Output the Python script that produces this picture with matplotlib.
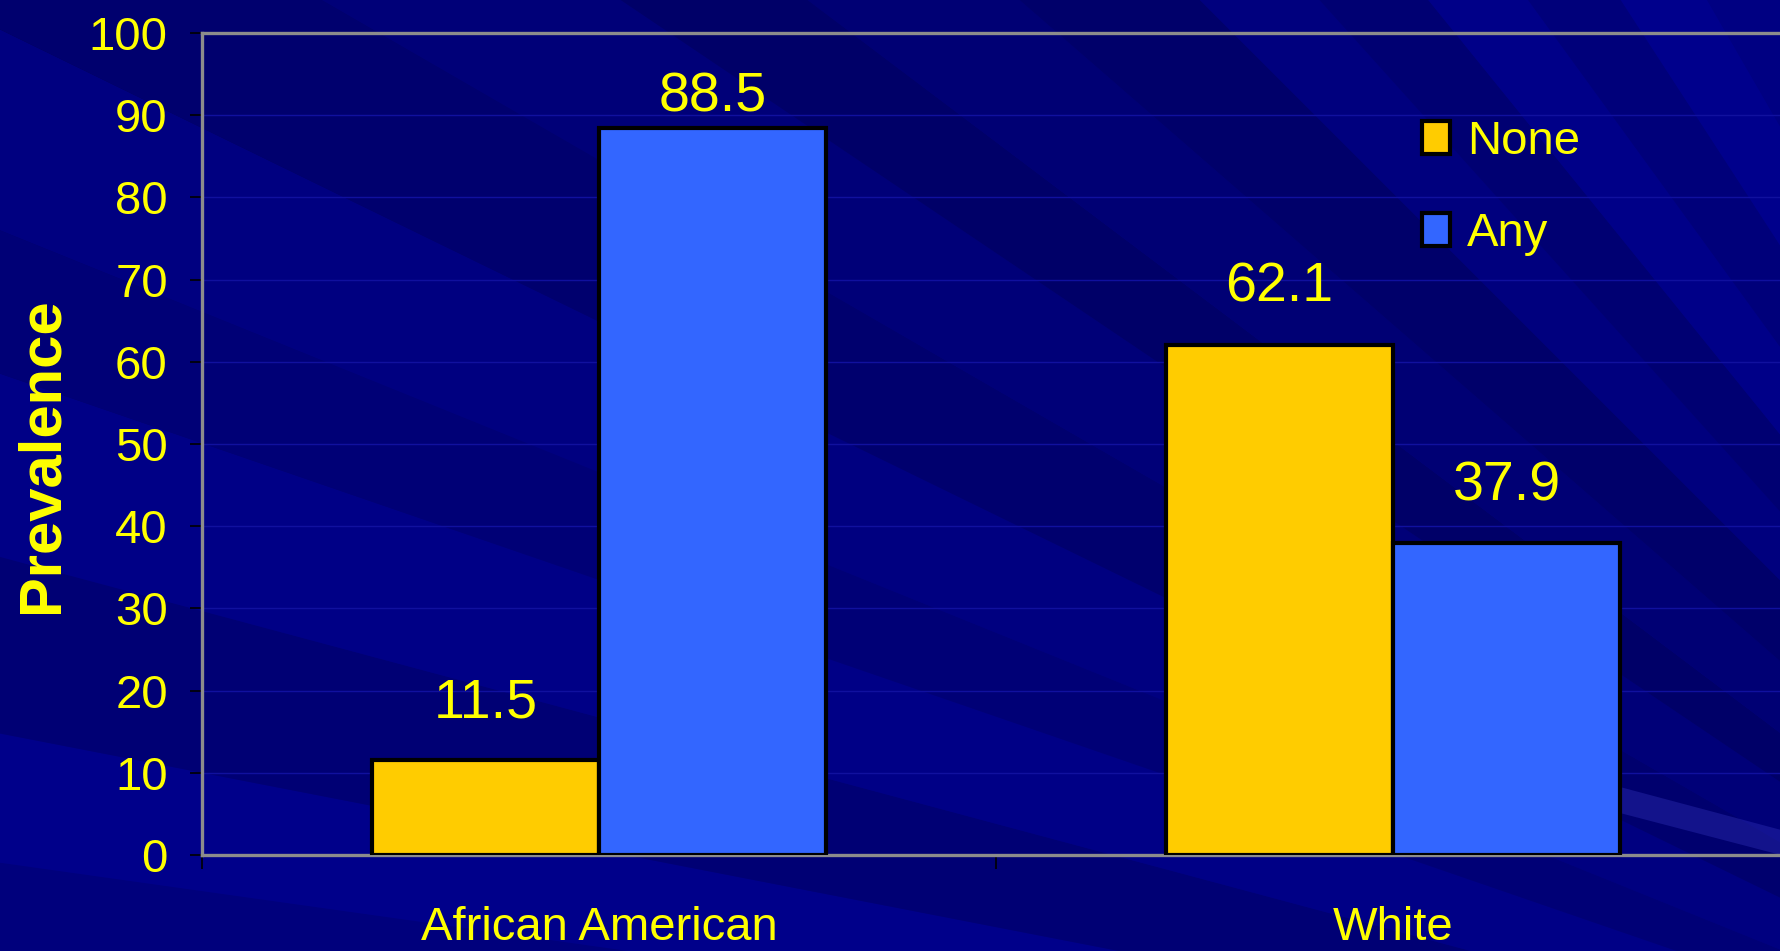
import numpy as np
import matplotlib
matplotlib.use("Agg")
import matplotlib.pyplot as plt
from matplotlib.patches import Polygon

# prevalence by group
groups = ["African American", "White"]
series = ["None", "Any"]
none_vals = [11.5, 62.1]
any_vals = [88.5, 37.9]
y_ticks = [0, 10, 20, 30, 40, 50, 60, 70, 80, 90, 100]

YELLOW = "#FFFF00"
GOLD = "#FFCC00"
BLUE = "#3366FF"
NAVY = "#000080"
SPINE = "#8C8C8C"
FONT = "Liberation Sans"

W, H, DPI = 1781, 951, 100
fig = plt.figure(figsize=(W / DPI, H / DPI), dpi=DPI, facecolor=NAVY)

# background: soft rays fanning out from beyond the lower right corner
bg = fig.add_axes([0, 0, 1, 1], zorder=-10)
bg.set_xlim(0, W)
bg.set_ylim(H, 0)
bg.axis("off")
origin = np.array([2400.0, 1200.0])
ray_edges = [184, 188, 191, 195, 199, 202, 206, 210, 214, 217, 221, 225,
             228, 231, 234, 237, 240, 243, 247]
ray_shades = ["#00007C", "#00008A", "#000074", "#000086", "#000076", "#000080",
              "#00006E", "#000078", "#000068", "#000074", "#00006A", "#00007E",
              "#000072", "#000088", "#00007A", "#00008C", "#000082", "#00008C"]
for a0, a1, c in zip(ray_edges[:-1], ray_edges[1:], ray_shades):
    pts = [origin]
    for a in np.linspace(np.radians(a0), np.radians(a1), 6):
        pts.append(origin + 4000 * np.array([np.cos(a), np.sin(a)]))
    bg.add_patch(Polygon(pts, closed=True, facecolor=c, edgecolor="none"))
# darker corner at the top left
yy, xx = np.mgrid[0:H:8, 0:W:8]
shade = np.clip(1 - np.hypot(xx / 1100, yy / 700), 0, 1)
bg.imshow(np.dstack([np.zeros_like(shade)] * 3 + [0.35 * shade]),
          extent=(0, W, H, 0), aspect="auto", interpolation="bilinear")
# pale streak in the lower right corner
bg.add_patch(Polygon([(1620, 787), (1800, 835), (1800, 860), (1620, 813)],
                     closed=True, facecolor="#3030B8", alpha=0.4, edgecolor="none"))

# plot area
ax = fig.add_axes([202 / W, 1 - 855 / H, 1588 / W, 822 / H])
ax.patch.set_visible(False)

x = np.arange(len(groups))
bw = 0.286
bars_none = ax.bar(x - bw / 2, none_vals, bw, color=GOLD, edgecolor="black",
                   linewidth=3, label=series[0], zorder=3)
bars_any = ax.bar(x + bw / 2, any_vals, bw, color=BLUE, edgecolor="black",
                  linewidth=3, label=series[1], zorder=3)

for bars, vals in ((bars_none, none_vals), (bars_any, any_vals)):
    for b, v in zip(bars, vals):
        ax.text(b.get_x() + b.get_width() / 2, min(v + 5.2, 90.4), f"{v:.1f}",
                ha="center", va="baseline", color=YELLOW, fontsize=40,
                family=FONT, zorder=4)

ax.set_xlim(-0.5, 1.5)
ax.set_ylim(0, 100)
ax.set_yticks(y_ticks)
ax.set_yticklabels([str(t) for t in y_ticks], family=FONT, fontsize=34, color=YELLOW)
ax.tick_params(axis="y", direction="out", length=8.6, width=1.2, color="black", pad=16)

ax.set_xticks([-0.5, 0.5, 1.5])
ax.set_xticklabels([])
ax.tick_params(axis="x", which="major", direction="out", length=10, width=1.2,
               color="black")
ax.set_xticks(x, minor=True)
ax.set_xticklabels(groups, minor=True, family=FONT, fontsize=34, color=YELLOW)
ax.tick_params(axis="x", which="minor", length=0, pad=37)

ax.grid(axis="y", color="#10109E", linewidth=1.0, zorder=0)
ax.set_axisbelow(True)
for side in ("top", "left", "bottom"):
    ax.spines[side].set_color(SPINE)
    ax.spines[side].set_linewidth(2.4)
ax.spines["right"].set_visible(False)

fig.text(42 / W, 1 - 455 / H, "Prevalence", rotation=90, ha="center", va="center",
         color=YELLOW, fontsize=43, fontweight="bold", family=FONT)

leg = ax.legend(handles=[bars_none, bars_any], labels=series, loc="upper left",
                bbox_to_anchor=(1422 / W, 1 - 120 / H), bbox_transform=fig.transFigure,
                frameon=False, borderpad=0, borderaxespad=0, handlelength=0.6,
                handleheight=0.68, handletextpad=0.36, labelspacing=1.02,
                prop={"family": FONT, "size": 34})
for t in leg.get_texts():
    t.set_color(YELLOW)

fig.savefig("out.png", dpi=DPI, facecolor=NAVY)
